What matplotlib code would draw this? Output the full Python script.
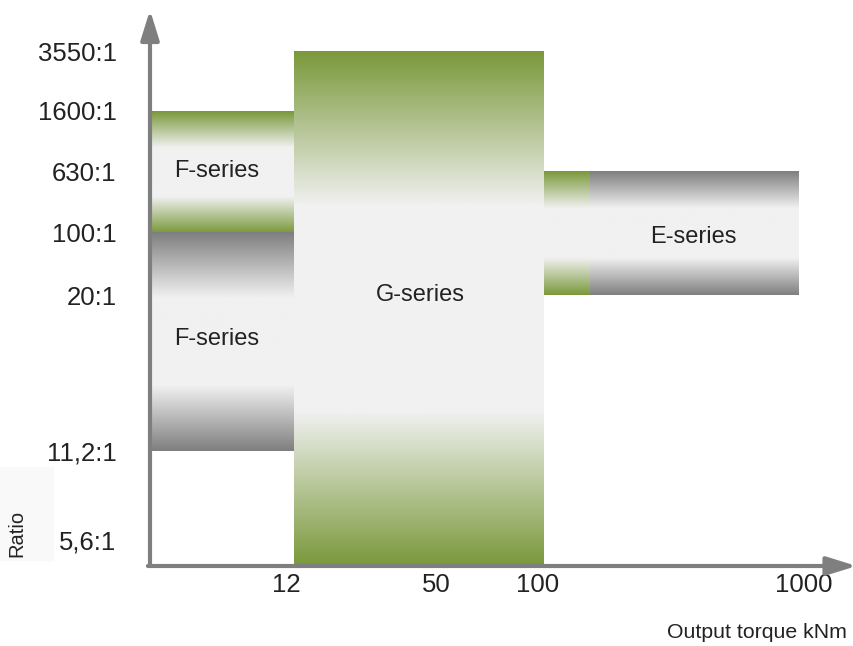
import numpy as np
import matplotlib
matplotlib.use("Agg")
import matplotlib.pyplot as plt
from matplotlib.colors import to_rgb
from matplotlib.patches import Rectangle
from matplotlib.transforms import ScaledTranslation

plt.rcParams["font.family"] = ["Liberation Sans", "DejaVu Sans"]

# Ratio levels (vertical position of each ratio on the chart)
ratio_labels = ["5,6:1", "11,2:1", "20:1", "100:1", "630:1", "1600:1", "3550:1"]
ratio_pos = [0.43, 1.88, 4.44, 5.46, 6.47, 7.46, 8.44]

# Torque levels (horizontal position of each torque value)
torque_labels = ["12", "50", "100", "1000"]
torque_pos = [1.44, 2.90, 3.94, 6.49]
torque_nudge = [-8, -4, -6, 5]  # px shift of the tick text

# Series blocks: x from, x to, y from, y to, edge colour
block_x0 = [0.0, 0.0, 1.44, 3.94, 4.40]
block_x1 = [1.44, 1.44, 3.94, 4.40, 6.49]
block_y0 = [5.46, 1.88, 0.0, 4.44, 4.44]
block_y1 = [7.46, 5.46, 8.44, 6.47, 6.47]
block_edge = ["green", "gray", "green", "green", "gray"]

# Label spots for the series names
series_text = ["F-series", "F-series", "G-series", "E-series"]
series_x = [0.67, 0.67, 2.70, 5.43]
series_y = [6.48, 3.72, 4.44, 5.40]

EDGE = {"green": "#7a993b", "gray": "#7f7f7f"}
LIGHT = "#f1f1f1"
AXIS = "#7f7f7f"
TXT = "#222222"


def gradient_block(ax, x0, x1, y0, y1, edge, fade=0.3):
    n = 300
    t = np.linspace(0, 1, n)
    d = np.minimum(t, 1 - t) / fade
    w = np.clip(d, 0, 1)[:, None]
    c0 = np.array(to_rgb(EDGE[edge]))
    c1 = np.array(to_rgb(LIGHT))
    img = c0 + (c1 - c0) * w
    img = img[:, None, :]
    ax.imshow(img, extent=(x0, x1, y0, y1), aspect="auto",
              interpolation="bilinear", origin="lower", zorder=1)


fig = plt.figure(figsize=(8.54, 6.46), dpi=100)
W, H = 854, 646
ax = fig.add_axes([150 / W, (H - 566) / H, (853 - 150) / W, (566 - 10) / H])
ax.set_xlim(0, 7.03)
ax.set_ylim(0, 556 / 61)

for x0, x1, y0, y1, e in zip(block_x0, block_x1, block_y0, block_y1, block_edge):
    gradient_block(ax, x0, x1, y0, y1, e)

for s, x, y in zip(series_text, series_x, series_y):
    ax.text(x, y, s, ha="center", va="center", fontsize=17, color=TXT, zorder=3)

# axes with arrow heads
arrow = dict(arrowstyle="-|>,head_length=0.9,head_width=0.28", color=AXIS,
             lw=3, mutation_scale=20, shrinkA=0, shrinkB=0)
ax.annotate("", xy=(0, 1), xytext=(0, 0), xycoords="axes fraction",
            arrowprops=arrow, annotation_clip=False, zorder=5)
ax.annotate("", xy=(1.005, 0), xytext=(-0.003, 0), xycoords="axes fraction",
            arrowprops=arrow, annotation_clip=False, zorder=5)

for sp in ax.spines.values():
    sp.set_visible(False)
ax.set_yticks(ratio_pos, ratio_labels)
ax.set_xticks(torque_pos, torque_labels)
ax.tick_params(axis="y", length=0, pad=24, labelsize=18.5, labelcolor=TXT)
ax.tick_params(axis="x", length=0, pad=5, labelsize=18.5, labelcolor=TXT)
for lab, dx in zip(ax.get_xticklabels(), torque_nudge):
    lab.set_transform(lab.get_transform() +
                      ScaledTranslation(dx / 100, 0, fig.dpi_scale_trans))

# axis titles
fig.patches.append(Rectangle((0, (H - 560) / H), 53 / W, 93 / H,
                             transform=fig.transFigure, color="#f9f9f9", zorder=0))
fig.text(17 / W, 1 - 533 / H, "Ratio", rotation=90, ha="center", va="center",
         fontsize=14.5, color=TXT)
fig.text(757 / W, 1 - 632 / H, "Output torque kNm", ha="center", va="center",
         fontsize=15.3, color=TXT)

fig.savefig("out.png", dpi=100)
